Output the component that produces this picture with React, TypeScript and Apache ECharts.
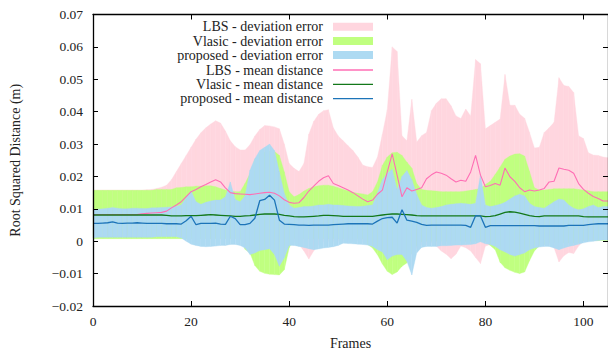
import React, { useEffect, useRef } from "react";
import * as echarts from "echarts";

// Frame numbers (x)
const frames = [
  0, 1, 2, 3, 4, 5, 6, 7, 8, 9,
  10, 11, 12, 13, 14, 15, 16, 17, 18, 19,
  20, 21, 22, 23, 24, 25, 26, 27, 28, 29,
  30, 31, 32, 33, 34, 35, 36, 37, 38, 39,
  40, 41, 42, 43, 44, 45, 46, 47, 48, 49,
  50, 51, 52, 53, 54, 55, 56, 57, 58, 59,
  60, 61, 62, 63, 64, 65, 66, 67, 68, 69,
  70, 71, 72, 73, 74, 75, 76, 77, 78, 79,
  80, 81, 82, 83, 84, 85, 86, 87, 88, 89,
  90, 91, 92, 93, 94, 95, 96, 97, 98, 99,
  100, 101, 102, 103, 104, 105,
];

// LBS deviation band (upper / lower)
const lbsHi = [
  0.0158, 0.0158, 0.0158, 0.0158, 0.0158, 0.0158, 0.0158, 0.0158, 0.0158, 0.0158,
  0.0158, 0.0159, 0.0160, 0.0163, 0.0167, 0.0173, 0.0190, 0.0215, 0.0240, 0.0265,
  0.0290, 0.0315, 0.0335, 0.0350, 0.0362, 0.0372, 0.0365, 0.0340, 0.0310, 0.0292,
  0.0282, 0.0282, 0.0298, 0.0325, 0.0345, 0.0357, 0.0356, 0.0353, 0.0347, 0.0300,
  0.0240, 0.0225, 0.0215, 0.0240, 0.0330, 0.0370, 0.0392, 0.0403, 0.0406, 0.0350,
  0.0325, 0.0310, 0.0295, 0.0280, 0.0260, 0.0235, 0.0230, 0.0228, 0.0260, 0.0330,
  0.0406, 0.0600, 0.0586, 0.0326, 0.0310, 0.0438, 0.0306, 0.0326, 0.0336, 0.0403,
  0.0426, 0.0440, 0.0440, 0.0418, 0.0387, 0.0379, 0.0408, 0.0387, 0.0561, 0.0548,
  0.0347, 0.0357, 0.0367, 0.0377, 0.0515, 0.0420, 0.0420, 0.0392, 0.0380, 0.0336,
  0.0288, 0.0290, 0.0336, 0.0350, 0.0367, 0.0505, 0.0481, 0.0478, 0.0459, 0.0326,
  0.0317, 0.0273, 0.0266, 0.0265, 0.0260, 0.0258,
];
const lbsLo = [
  0.002, 0.002, 0.002, 0.002, 0.002, 0.002, 0.002, 0.002, 0.002, 0.002,
  0.002, 0.002, 0.002, 0.002, 0.002, 0.002, 0.002, 0.002, 0.002, 0.002,
  0.002, 0.001, 0.001, 0.001, 0.001, 0.001, 0.001, 0.001, 0.001, 0.001,
  0.001, 0.0, 0.0, 0.0, 0.0, 0.0, 0.0, 0.0, 0.0, 0.0,
  0.0, 0.0, -0.001, -0.003, -0.0055, -0.003, -0.001, 0.0, 0.0, 0.0,
  0.0, 0.0, 0.0, 0.0, 0.0, 0.0, 0.0, -0.002, -0.002, -0.002,
  -0.003, -0.006, -0.006, -0.003, -0.002, -0.004, -0.002, -0.001, -0.001, -0.0005,
  -0.0015, -0.003, -0.004, -0.0054, -0.004, -0.0015, -0.002, -0.003, -0.005, -0.0069,
  -0.0015, -0.001, -0.001, -0.001, -0.001, -0.001, -0.001, -0.001, -0.001, -0.001,
  -0.001, -0.001, -0.001, -0.001, -0.002, -0.0064, -0.0045, -0.0035, -0.0038, -0.0015,
  0.0, 0.001, 0.001, 0.001, 0.001, 0.001,
];

// Vlasic deviation band
const vlaHi = [
  0.0157, 0.0157, 0.0157, 0.0157, 0.0157, 0.0157, 0.0157, 0.0157, 0.0157, 0.0157,
  0.0157, 0.0157, 0.0157, 0.0160, 0.0160, 0.0160, 0.0160, 0.0165, 0.0166, 0.0168,
  0.0168, 0.0170, 0.0170, 0.0171, 0.0171, 0.0168, 0.0163, 0.0158, 0.0155, 0.0153,
  0.0153, 0.0178, 0.0209, 0.0252, 0.0270, 0.0275, 0.0277, 0.0277, 0.0265, 0.0214,
  0.0153, 0.0137, 0.0144, 0.0155, 0.0163, 0.0168, 0.0171, 0.0173, 0.0173, 0.0170,
  0.0165, 0.0160, 0.0156, 0.0151, 0.0148, 0.0146, 0.0143, 0.0153, 0.0183, 0.0234,
  0.0260, 0.0273, 0.0275, 0.0265, 0.0244, 0.0226, 0.0178, 0.0160, 0.0157, 0.0156,
  0.0155, 0.0153, 0.0153, 0.0153, 0.0153, 0.0153, 0.0155, 0.0157, 0.0160, 0.0163,
  0.0175, 0.0185, 0.0206, 0.0229, 0.0253, 0.0263, 0.0269, 0.0270, 0.0263, 0.0215,
  0.0165, 0.0158, 0.0158, 0.0160, 0.0162, 0.0162, 0.0162, 0.0162, 0.0162, 0.0160,
  0.0158, 0.0156, 0.0153, 0.0153, 0.0153, 0.0153,
];
const vlaLo = [
  0.0008, 0.0008, 0.0008, 0.0008, 0.0008, 0.0008, 0.0008, 0.0008, 0.0008, 0.0008,
  0.0008, 0.0008, 0.0008, 0.0008, 0.0008, 0.0008, 0.0008, 0.0008, 0.0008, 0.0008,
  0.0008, 0.0008, 0.0008, 0.0008, 0.0008, 0.0008, 0.0008, 0.0008, 0.0008, 0.0008,
  0.0008, -0.0025, -0.0036, -0.0075, -0.0093, -0.0099, -0.0102, -0.0103, -0.0104, -0.0088,
  -0.0020, 0.0008, 0.0008, 0.0008, 0.0008, 0.0008, 0.0008, 0.0008, 0.0008, 0.0008,
  0.0008, 0.0008, 0.0008, 0.0008, 0.0008, 0.0008, -0.0010, -0.0021, -0.0042, -0.0070,
  -0.0093, -0.0103, -0.0095, -0.0077, -0.0067, -0.0036, -0.0013, -0.0002, 0.0, 0.0,
  0.0, 0.0, 0.0, 0.0, 0.0, 0.0, 0.0, 0.0, 0.0, 0.0,
  0.0, -0.0013, -0.0026, -0.0065, -0.0082, -0.0090, -0.0096, -0.0100, -0.0095, -0.0060,
  -0.0030, -0.0014, -0.0010, -0.0005, -0.0005, -0.0005, -0.0005, -0.0005, -0.0005, -0.0005,
  0.0002, 0.0002, 0.0002, 0.0002, 0.0002, 0.0002,
];

// Proposed deviation band
const propHi = [
  0.0097, 0.0099, 0.0100, 0.0102, 0.0104, 0.0102, 0.0100, 0.0100, 0.0102, 0.0102,
  0.0101, 0.0101, 0.0103, 0.0103, 0.0104, 0.0105, 0.0106, 0.0108, 0.0112, 0.0134,
  0.0155, 0.0122, 0.0114, 0.0120, 0.0124, 0.0127, 0.0127, 0.0137, 0.0183, 0.0129,
  0.0122, 0.0140, 0.0219, 0.0255, 0.0280, 0.0290, 0.0300, 0.0280, 0.0214, 0.0148,
  0.0112, 0.0102, 0.0104, 0.0107, 0.0107, 0.0109, 0.0112, 0.0112, 0.0114, 0.0112,
  0.0112, 0.0110, 0.0109, 0.0108, 0.0107, 0.0108, 0.0110, 0.0112, 0.0150, 0.0190,
  0.0210, 0.0222, 0.0160, 0.0200, 0.0218, 0.0190, 0.0145, 0.0112, 0.0104, 0.0102,
  0.0104, 0.0107, 0.0112, 0.0114, 0.0116, 0.0117, 0.0116, 0.0114, 0.0117, 0.0205,
  0.0112, 0.0107, 0.0110, 0.0114, 0.0120, 0.0130, 0.0140, 0.0145, 0.0140, 0.0117,
  0.0107, 0.0104, 0.0102, 0.0112, 0.0122, 0.0130, 0.0127, 0.0112, 0.0102, 0.0097,
  0.0100, 0.0107, 0.0112, 0.0104, 0.0107, 0.0107,
];
const propLo = [
  0.0010, 0.0012, 0.0012, 0.0012, 0.0012, 0.0012, 0.0012, 0.0012, 0.0012, 0.0012,
  0.0012, 0.0012, 0.0012, 0.0014, 0.0014, 0.0014, 0.0014, 0.0014, 0.0010, 0.0000,
  -0.0009, -0.0013, -0.0016, -0.0017, -0.0016, -0.0015, -0.0013, -0.0013, -0.0010, -0.0010,
  -0.0013, -0.0021, -0.0041, -0.0036, -0.0029, -0.0026, -0.0023, -0.0041, -0.0077, -0.0051,
  -0.0013, -0.0013, -0.0016, -0.0019, -0.0023, -0.0026, -0.0024, -0.0021, -0.0019, -0.0017,
  -0.0013, -0.0006, -0.0007, -0.0008, -0.0009, -0.0010, -0.0012, -0.0016, -0.0026, -0.0033,
  -0.0057, -0.0046, -0.0041, -0.0041, -0.0062, -0.0104, -0.0036, -0.0019, -0.0016, -0.0016,
  -0.0016, -0.0014, -0.0014, -0.0013, -0.0012, -0.0012, -0.0011, -0.0010, -0.0008, -0.0002,
  -0.0008, -0.0010, -0.0016, -0.0026, -0.0033, -0.0041, -0.0046, -0.0041, -0.0036, -0.0026,
  -0.0021, -0.0018, -0.0016, -0.0016, -0.0021, -0.0026, -0.0021, -0.0016, -0.0013, -0.0009,
  -0.0005, -0.0002, 0.0000, 0.0002, 0.0004, 0.0004,
];

// Mean distance lines
const lbsMean = [
  0.0082, 0.0082, 0.0082, 0.0082, 0.0082, 0.0082, 0.0082, 0.0082, 0.0082, 0.0082,
  0.0085, 0.0086, 0.0087, 0.0088, 0.0089, 0.0093, 0.0103, 0.0112, 0.0122, 0.0138,
  0.0153, 0.0160, 0.0168, 0.0175, 0.0183, 0.0190, 0.0183, 0.0165, 0.0150, 0.0147,
  0.0146, 0.0145, 0.0144, 0.0146, 0.0148, 0.0150, 0.0151, 0.0148, 0.0140, 0.0128,
  0.0120, 0.0117, 0.0119, 0.0135, 0.0155, 0.0170, 0.0185, 0.0196, 0.0202, 0.0178,
  0.0172, 0.0165, 0.0158, 0.0150, 0.0140, 0.0130, 0.0122, 0.0127, 0.0145, 0.0158,
  0.0214, 0.0270, 0.0204, 0.0137, 0.0165, 0.0155, 0.0160, 0.0165, 0.0193, 0.0205,
  0.0214, 0.0210, 0.0204, 0.0193, 0.0183, 0.0188, 0.0185, 0.0214, 0.0265, 0.0204,
  0.0168, 0.0172, 0.0178, 0.0173, 0.0226, 0.0199, 0.0185, 0.0165, 0.0153, 0.0158,
  0.0155, 0.0158, 0.0163, 0.0183, 0.0185, 0.0226, 0.0222, 0.0219, 0.0210, 0.0178,
  0.0160, 0.0148, 0.0138, 0.0132, 0.0124, 0.0124,
];
const vlaMean = [
  0.0081, 0.0081, 0.0081, 0.0081, 0.0081, 0.0081, 0.0081, 0.0081, 0.0081, 0.0081,
  0.0081, 0.0081, 0.0081, 0.0081, 0.0081, 0.0080, 0.0078, 0.0078, 0.0078, 0.0079,
  0.0079, 0.0079, 0.0080, 0.0081, 0.0082, 0.0081, 0.0080, 0.0079, 0.0078, 0.0077,
  0.0077, 0.0078, 0.0079, 0.0081, 0.0083, 0.0084, 0.0084, 0.0084, 0.0083, 0.0080,
  0.0078, 0.0076, 0.0075, 0.0075, 0.0076, 0.0077, 0.0078, 0.0080, 0.0080, 0.0079,
  0.0078, 0.0077, 0.0077, 0.0077, 0.0077, 0.0077, 0.0077, 0.0077, 0.0079, 0.0081,
  0.0083, 0.0084, 0.0084, 0.0083, 0.0082, 0.0081, 0.0079, 0.0078, 0.0078, 0.0078,
  0.0078, 0.0078, 0.0078, 0.0078, 0.0078, 0.0078, 0.0078, 0.0078, 0.0078, 0.0078,
  0.0076, 0.0077, 0.0079, 0.0084, 0.0089, 0.0091, 0.0090, 0.0087, 0.0083, 0.0079,
  0.0077, 0.0076, 0.0078, 0.0078, 0.0078, 0.0078, 0.0078, 0.0078, 0.0078, 0.0078,
  0.0076, 0.0075, 0.0075, 0.0075, 0.0075, 0.0075,
];
const propMean = [
  0.0055, 0.0055, 0.0056, 0.0057, 0.0060, 0.0056, 0.0055, 0.0056, 0.0056, 0.0057,
  0.0056, 0.0055, 0.0055, 0.0055, 0.0055, 0.0054, 0.0054, 0.0054, 0.0053, 0.0063,
  0.0077, 0.0051, 0.0055, 0.0055, 0.0055, 0.0056, 0.0053, 0.0052, 0.0077, 0.0070,
  0.0051, 0.0051, 0.0055, 0.0071, 0.0125, 0.0129, 0.0142, 0.0127, 0.0065, 0.0053,
  0.0052, 0.0051, 0.0050, 0.0050, 0.0049, 0.0050, 0.0050, 0.0050, 0.0050, 0.0051,
  0.0052, 0.0053, 0.0054, 0.0054, 0.0054, 0.0054, 0.0054, 0.0053, 0.0062, 0.0070,
  0.0073, 0.0074, 0.0056, 0.0097, 0.0065, 0.0062, 0.0058, 0.0052, 0.0049, 0.0050,
  0.0050, 0.0050, 0.0050, 0.0050, 0.0050, 0.0050, 0.0049, 0.0043, 0.0079, 0.0078,
  0.0043, 0.0048, 0.0048, 0.0048, 0.0048, 0.0048, 0.0048, 0.0048, 0.0048, 0.0048,
  0.0048, 0.0047, 0.0047, 0.0047, 0.0047, 0.0047, 0.0047, 0.0049, 0.0049, 0.0049,
  0.0049, 0.0051, 0.0053, 0.0054, 0.0054, 0.0054,
];

const legendLabels = [
  "LBS - deviation error",
  "Vlasic - deviation error",
  "proposed - deviation error",
  "LBS - mean distance",
  "Vlasic - mean distance",
  "proposed - mean distance",
];

const xTicks = { min: 0, max: 105, interval: 20 };
const yTicks = { min: -0.02, max: 0.07, interval: 0.01 };

const PINK_BAND = "#FFD6DF";
const GREEN_BAND = "#C0FF80";
const BLUE_BAND = "#ADDAF2";
const PINK_LINE = "#FF6EB4";
const GREEN_LINE = "#13781A";
const BLUE_LINE = "#1C74B8";

const FONT = '"Liberation Serif", "Times New Roman", serif';

export default function App() {
  const ref = useRef<HTMLDivElement>(null);

  useEffect(() => {
    if (!ref.current) return;
    const chart = echarts.init(ref.current, null, { renderer: "svg" });

    // Filled band between lo and hi, drawn frame by frame through the axes' scales
    const band = (name: string, lo: number[], hi: number[], color: string, z: number) => ({
      name,
      type: "custom",
      z,
      clip: true,
      silent: true,
      data: frames.map((f, i) => [f, lo[i], hi[i]]),
      encode: { x: 0, y: [1, 2] },
      renderItem: (params: any, api: any) => {
        const i = params.dataIndex;
        if (i >= frames.length - 1) return { type: "group", children: [] };
        const a0 = api.coord([frames[i], lo[i]]);
        const a1 = api.coord([frames[i], hi[i]]);
        const b0 = api.coord([frames[i + 1], lo[i + 1]]);
        const b1 = api.coord([frames[i + 1], hi[i + 1]]);
        return {
          type: "polygon",
          shape: { points: [a0, b0, b1, a1] },
          style: { fill: color, stroke: color, lineWidth: 0.35 },
        };
      },
    });

    const meanLine = (name: string, vals: number[], color: string, width: number) => ({
      name,
      type: "line",
      data: frames.map((f, i) => [f, vals[i]]),
      symbol: "none",
      lineStyle: { color, width },
      z: 5,
    });

    const axisLineStyle = { color: "#000", width: 1.3 };

    const legendRows = [
      { kind: "rect", color: PINK_BAND, y: 26.7 },
      { kind: "rect", color: GREEN_BAND, y: 41 },
      { kind: "rect", color: BLUE_BAND, y: 55 },
      { kind: "line", color: PINK_LINE, y: 70 },
      { kind: "line", color: GREEN_LINE, y: 84.3 },
      { kind: "line", color: BLUE_LINE, y: 98.7 },
    ];

    const graphic: any[] = [];
    legendRows.forEach((r, i) => {
      graphic.push({
        type: "text",
        x: 323,
        y: r.y,
        z: 100,
        style: {
          text: legendLabels[i],
          textAlign: "right",
          textVerticalAlign: "middle",
          font: `14px ${FONT}`,
          lineHeight: 13,
          fill: "#222",
        },
      });
      if (r.kind === "rect") {
        graphic.push({
          type: "rect",
          z: 100,
          shape: { x: 333, y: r.y - 4, width: 40, height: 8 },
          style: { fill: r.color },
        });
      } else {
        graphic.push({
          type: "line",
          z: 100,
          shape: { x1: 333, y1: r.y, x2: 373, y2: r.y },
          style: { stroke: r.color, lineWidth: 1.3 },
        });
      }
    });

    const option: any = {
      animation: false,
      backgroundColor: "#fff",
      textStyle: { fontFamily: FONT },
      grid: { left: 89.3, top: 14.5, width: 520.3, height: 294, containLabel: false },
      xAxis: [
        {
          type: "value",
          ...xTicks,
          name: "Frames",
          nameLocation: "middle",
          nameGap: 30,
          nameTextStyle: { fontFamily: FONT, fontSize: 14, color: "#222" },
          axisLine: { onZero: false, lineStyle: axisLineStyle },
          axisTick: { inside: true, length: 5, lineStyle: { color: "#000", width: 1 } },
          axisLabel: { fontFamily: FONT, fontSize: 13.5, color: "#222", margin: 8, showMaxLabel: false },
          splitLine: { show: false },
          z: 10,
        },
        {
          type: "value",
          position: "top",
          ...xTicks,
          axisLine: { onZero: false, lineStyle: axisLineStyle },
          axisTick: { inside: true, length: 5, lineStyle: { color: "#000", width: 1 } },
          axisLabel: { show: false },
          splitLine: { show: false },
          z: 10,
        },
      ],
      yAxis: [
        {
          type: "value",
          ...yTicks,
          name: "Root Squared Distance (m)",
          nameLocation: "middle",
          nameGap: 71,
          nameTextStyle: { fontFamily: FONT, fontSize: 14, color: "#222" },
          axisLine: { onZero: false, lineStyle: axisLineStyle },
          axisTick: { inside: true, length: 5, lineStyle: { color: "#000", width: 1 } },
          axisLabel: {
            fontFamily: FONT,
            fontSize: 13.5,
            color: "#222",
            margin: 10,
            formatter: (v: number) => {
              if (Math.abs(v) < 1e-9) return "0";
              const s = Math.abs(v).toFixed(2);
              return v < 0 ? "\u2212" + s : s;
            },
          },
          splitLine: { show: false },
          z: 10,
        },
        {
          type: "value",
          position: "right",
          ...yTicks,
          axisLine: { onZero: false, lineStyle: axisLineStyle },
          axisTick: { inside: true, length: 5, lineStyle: { color: "#000", width: 1 } },
          axisLabel: { show: false },
          splitLine: { show: false },
          z: 10,
        },
      ],
      series: [
        band("LBS - deviation error", lbsLo, lbsHi, PINK_BAND, 1),
        band("Vlasic - deviation error", vlaLo, vlaHi, GREEN_BAND, 2),
        band("proposed - deviation error", propLo, propHi, BLUE_BAND, 3),
        meanLine("LBS - mean distance", lbsMean, PINK_LINE, 1.1),
        meanLine("Vlasic - mean distance", vlaMean, GREEN_LINE, 1.3),
        meanLine("proposed - mean distance", propMean, BLUE_LINE, 1.3),
      ],
      graphic,
    };

    chart.setOption(option);
    return () => chart.dispose();
  }, []);

  return (
    <div
      ref={ref}
      style={{ position: "absolute", left: 0, top: 0, width: 608, height: 355 }}
    />
  );
}
